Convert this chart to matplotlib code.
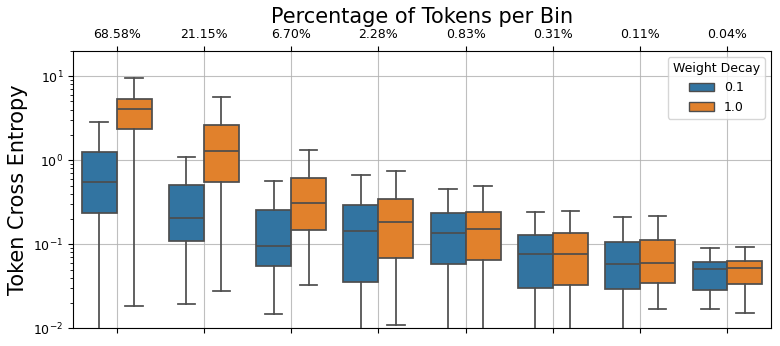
import matplotlib
matplotlib.use("Agg")
import matplotlib.pyplot as plt
from matplotlib.patches import Patch
import numpy as np

bins_pct = ["68.58%", "21.15%", "6.70%", "2.28%", "0.83%", "0.31%", "0.11%", "0.04%"]
hues = ["0.1", "1.0"]
colors = ["#3274a1", "#e1812c"]

# per bin: whislo, q1, median, q3, whishi
wd01_lo = [0.003, 0.0195, 0.0147, 0.003, 0.003, 0.003, 0.003, 0.0168]
wd01_q1 = [0.234, 0.109, 0.0552, 0.0359, 0.0578, 0.0304, 0.0296, 0.0283]
wd01_med = [0.547, 0.207, 0.0962, 0.143, 0.135, 0.0767, 0.0583, 0.0513]
wd01_q3 = [1.27, 0.504, 0.258, 0.296, 0.234, 0.129, 0.107, 0.0611]
wd01_hi = [2.83, 1.10, 0.562, 0.668, 0.452, 0.240, 0.211, 0.0904]

wd10_lo = [0.0186, 0.0280, 0.0325, 0.0109, 0.003, 0.003, 0.0171, 0.0153]
wd10_q1 = [2.38, 0.547, 0.147, 0.0693, 0.065, 0.0327, 0.0349, 0.0337]
wd10_med = [4.11, 1.30, 0.310, 0.186, 0.152, 0.0767, 0.0594, 0.0522]
wd10_q3 = [5.33, 2.63, 0.621, 0.349, 0.243, 0.136, 0.113, 0.0633]
wd10_hi = [9.62, 5.71, 1.34, 0.752, 0.499, 0.247, 0.217, 0.0921]

series = [
    (wd01_lo, wd01_q1, wd01_med, wd01_q3, wd01_hi),
    (wd10_lo, wd10_q1, wd10_med, wd10_q3, wd10_hi),
]

fig = plt.figure(figsize=(7.8, 3.46), dpi=100)
ax = fig.add_axes([0.0936, 0.051, 0.8949, 0.802])

edge = "#4d4d4d"
n = len(bins_pct)
width = 0.4
for h, (lo, q1, med, q3, hi) in enumerate(series):
    stats = []
    for i in range(n):
        stats.append(dict(whislo=lo[i], q1=q1[i], med=med[i], q3=q3[i], whishi=hi[i], fliers=[]))
    pos = np.arange(n) + (h - 0.5) * width
    ax.bxp(stats, positions=pos, widths=width, patch_artist=True, showfliers=False,
           capwidths=width * 0.5,
           boxprops=dict(facecolor=colors[h], edgecolor=edge, linewidth=1.25),
           medianprops=dict(color=edge, linewidth=1.25),
           whiskerprops=dict(color=edge, linewidth=1.25),
           capprops=dict(color=edge, linewidth=1.25),
           manage_ticks=False, zorder=3)

ax.set_yscale("log")
ax.set_ylim(0.01, 20)
ax.set_xlim(-0.5, n - 0.5)
ax.set_xticks(np.arange(n))
ax.set_xticklabels(bins_pct, fontsize=9)
ax.tick_params(axis="x", top=True, labeltop=True, bottom=True, labelbottom=False)
ax.tick_params(axis="y", labelsize=9)
ax.xaxis.set_label_position("top")
ax.set_xlabel("Percentage of Tokens per Bin", fontsize=15)
ax.set_ylabel("Token Cross Entropy", fontsize=15)
ax.grid(True, which="major", color="#b0b0b0", linewidth=0.8, alpha=0.8, zorder=0)
ax.set_axisbelow(True)

handles = [Patch(facecolor=colors[i], edgecolor=edge, label=hues[i]) for i in range(2)]
ax.legend(handles=handles, title="Weight Decay", loc="upper right", fontsize=9, title_fontsize=9)

fig.savefig("out.png", dpi=100)
